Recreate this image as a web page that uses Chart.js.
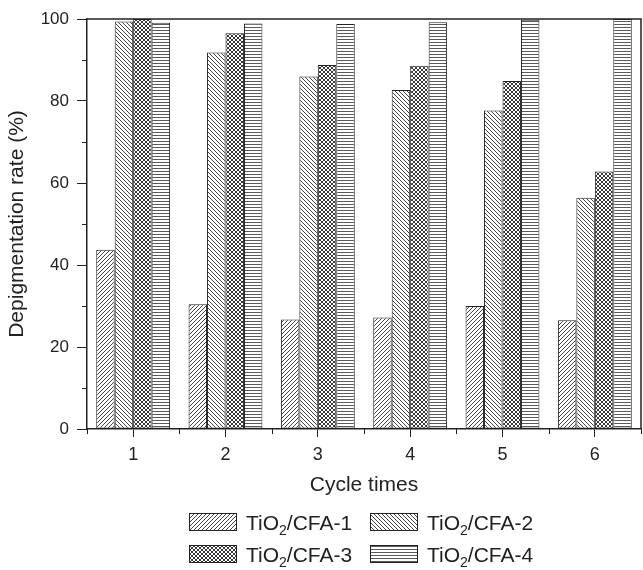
<!DOCTYPE html>
<html>
<head>
<meta charset="utf-8">
<script src="https://cdn.jsdelivr.net/npm/chart.js@4.4.1/dist/chart.umd.min.js"></script>
<style>
  html, body { margin: 0; padding: 0; background: #fff; }
  #wrap { width: 643px; height: 570px; }
</style>
</head>
<body>
<div id="wrap"><canvas id="barChart"></canvas></div>
<script>
const cycles = ["1", "2", "3", "4", "5", "6"];
const seriesNames = ["CFA-1", "CFA-2", "CFA-3", "CFA-4"];
const cfa1 = [43.7, 30.4, 26.7, 27.2, 30.0, 26.5];
const cfa2 = [99.4, 91.8, 86.0, 82.7, 77.7, 56.4];
const cfa3 = [100, 96.5, 88.8, 88.6, 84.9, 62.8];
const cfa4 = [99.1, 98.9, 98.8, 99.2, 99.8, 100];
const yTicks = [0, 20, 40, 60, 80, 100];

const FONT = "'Liberation Sans', Arial, sans-serif";
const INK = "#222";

// small repeating tiles for the hatch fills
function makePattern(kind) {
    const c = document.createElement("canvas");
    const n = kind === "h" ? 3 : 4;
    c.width = n; c.height = n;
    const g = c.getContext("2d");
    g.fillStyle = "#fff";
    g.fillRect(0, 0, n, n);
    g.fillStyle = kind === "cross" ? "#3a3a3a" : (kind === "h" ? "#5a5a5a" : "#444");
    for (let i = 0; i < n; i++) {
        if (kind === "fwd") g.fillRect(i, n - 1 - i, 1, 1);
        if (kind === "back") g.fillRect(i, i, 1, 1);
        if (kind === "cross") { g.fillRect(i, i, 1, 1); g.fillRect(i, n - 1 - i, 1, 1); }
    }
    if (kind === "h") g.fillRect(0, 0, n, 1);
    return g.createPattern(c, "repeat");
}

const fills = [makePattern("fwd"), makePattern("back"), makePattern("cross"), makePattern("h")];
const values = [cfa1, cfa2, cfa3, cfa4];

const data = {
    labels: cycles,
    datasets: seriesNames.map((name, i) => ({
        label: "TiO\u2082/" + name,
        data: values[i],
        backgroundColor: fills[i],
        borderColor: INK,
        borderWidth: 1,
        borderSkipped: false,
        categoryPercentage: 0.8,
        barPercentage: 1.0
    }))
};

// box frame, minor ticks and the two-column legend
const framePlugin = {
    id: "frame",
    afterDatasetsDraw(chart) {
        const { ctx, chartArea: a, scales: { x, y } } = chart;
        ctx.save();
        ctx.strokeStyle = INK;
        ctx.lineWidth = 1.5;
        ctx.beginPath();
        ctx.moveTo(a.left, a.top);
        ctx.lineTo(a.right, a.top);
        ctx.lineTo(a.right, a.bottom);
        ctx.stroke();

        ctx.lineWidth = 1;
        ctx.beginPath();
        for (let v = 10; v < 100; v += 20) {
            const py = Math.round(y.getPixelForValue(v)) + 0.5;
            ctx.moveTo(a.left - 5, py);
            ctx.lineTo(a.left, py);
        }
        for (let i = 0; i <= cycles.length; i++) {
            const px = Math.round(x.getPixelForValue(i - 0.5)) + 0.5;
            ctx.moveTo(px, a.bottom);
            ctx.lineTo(px, a.bottom + 5);
        }
        ctx.stroke();
        ctx.restore();
    },
    afterDraw(chart) {
        const ctx = chart.ctx;
        const cols = [189, 370];
        const rows = [513, 545];
        chart.data.datasets.forEach((ds, i) => {
            const x = cols[i % 2];
            const y = rows[Math.floor(i / 2)];
            ctx.save();
            ctx.fillStyle = ds.backgroundColor;
            ctx.fillRect(x, y, 48, 18);
            ctx.strokeStyle = INK;
            ctx.lineWidth = 1;
            ctx.strokeRect(x + 0.5, y + 0.5, 47, 17);

            const parts = ds.label.split("\u2082");
            const base = y + 17;
            let tx = x + 57;
            ctx.fillStyle = INK;
            ctx.textBaseline = "alphabetic";
            ctx.font = "21px " + FONT;
            ctx.fillText(parts[0], tx, base);
            tx += ctx.measureText(parts[0]).width;
            ctx.font = "14px " + FONT;
            ctx.fillText("2", tx, base + 5);
            tx += ctx.measureText("2").width;
            ctx.font = "21px " + FONT;
            ctx.fillText(parts[1], tx, base);
            ctx.restore();
        });
    }
};

const options = {
    responsive: true,
    maintainAspectRatio: false,
    animation: false,
    layout: {
        padding: { top: 19, right: 2, bottom: 72, left: 0 }
    },
    plugins: {
        legend: { display: false },
        tooltip: { enabled: false }
    },
    scales: {
        x: {
            grid: {
                display: true,
                offset: false,
                drawOnChartArea: false,
                tickLength: 8,
                tickColor: INK,
                tickWidth: 1
            },
            border: { color: INK, width: 1.5 },
            ticks: {
                color: INK,
                font: { family: FONT, size: 18 },
                padding: 7
            },
            title: {
                display: true,
                text: "Cycle times",
                color: INK,
                font: { family: FONT, size: 21 },
                padding: { top: 2, bottom: 0 }
            },
            afterFit(scale) { scale.height = 69; }
        },
        y: {
            min: 0,
            max: 100,
            afterBuildTicks(scale) {
                scale.ticks = yTicks.map(v => ({ value: v }));
            },
            grid: {
                display: true,
                drawOnChartArea: false,
                tickLength: 10,
                tickColor: INK,
                tickWidth: 1
            },
            border: { color: INK, width: 1.5 },
            ticks: {
                color: INK,
                font: { family: FONT, size: 17 },
                padding: 8
            },
            title: {
                display: true,
                text: "Depigmentation rate (%)",
                color: INK,
                font: { family: FONT, size: 21 },
                padding: { top: 5, bottom: 0 }
            },
            afterFit(scale) { scale.width = 87; }
        }
    }
};

new Chart(document.getElementById("barChart").getContext("2d"), {
    type: "bar",
    data: data,
    options: options,
    plugins: [framePlugin]
});
</script>
</body>
</html>
